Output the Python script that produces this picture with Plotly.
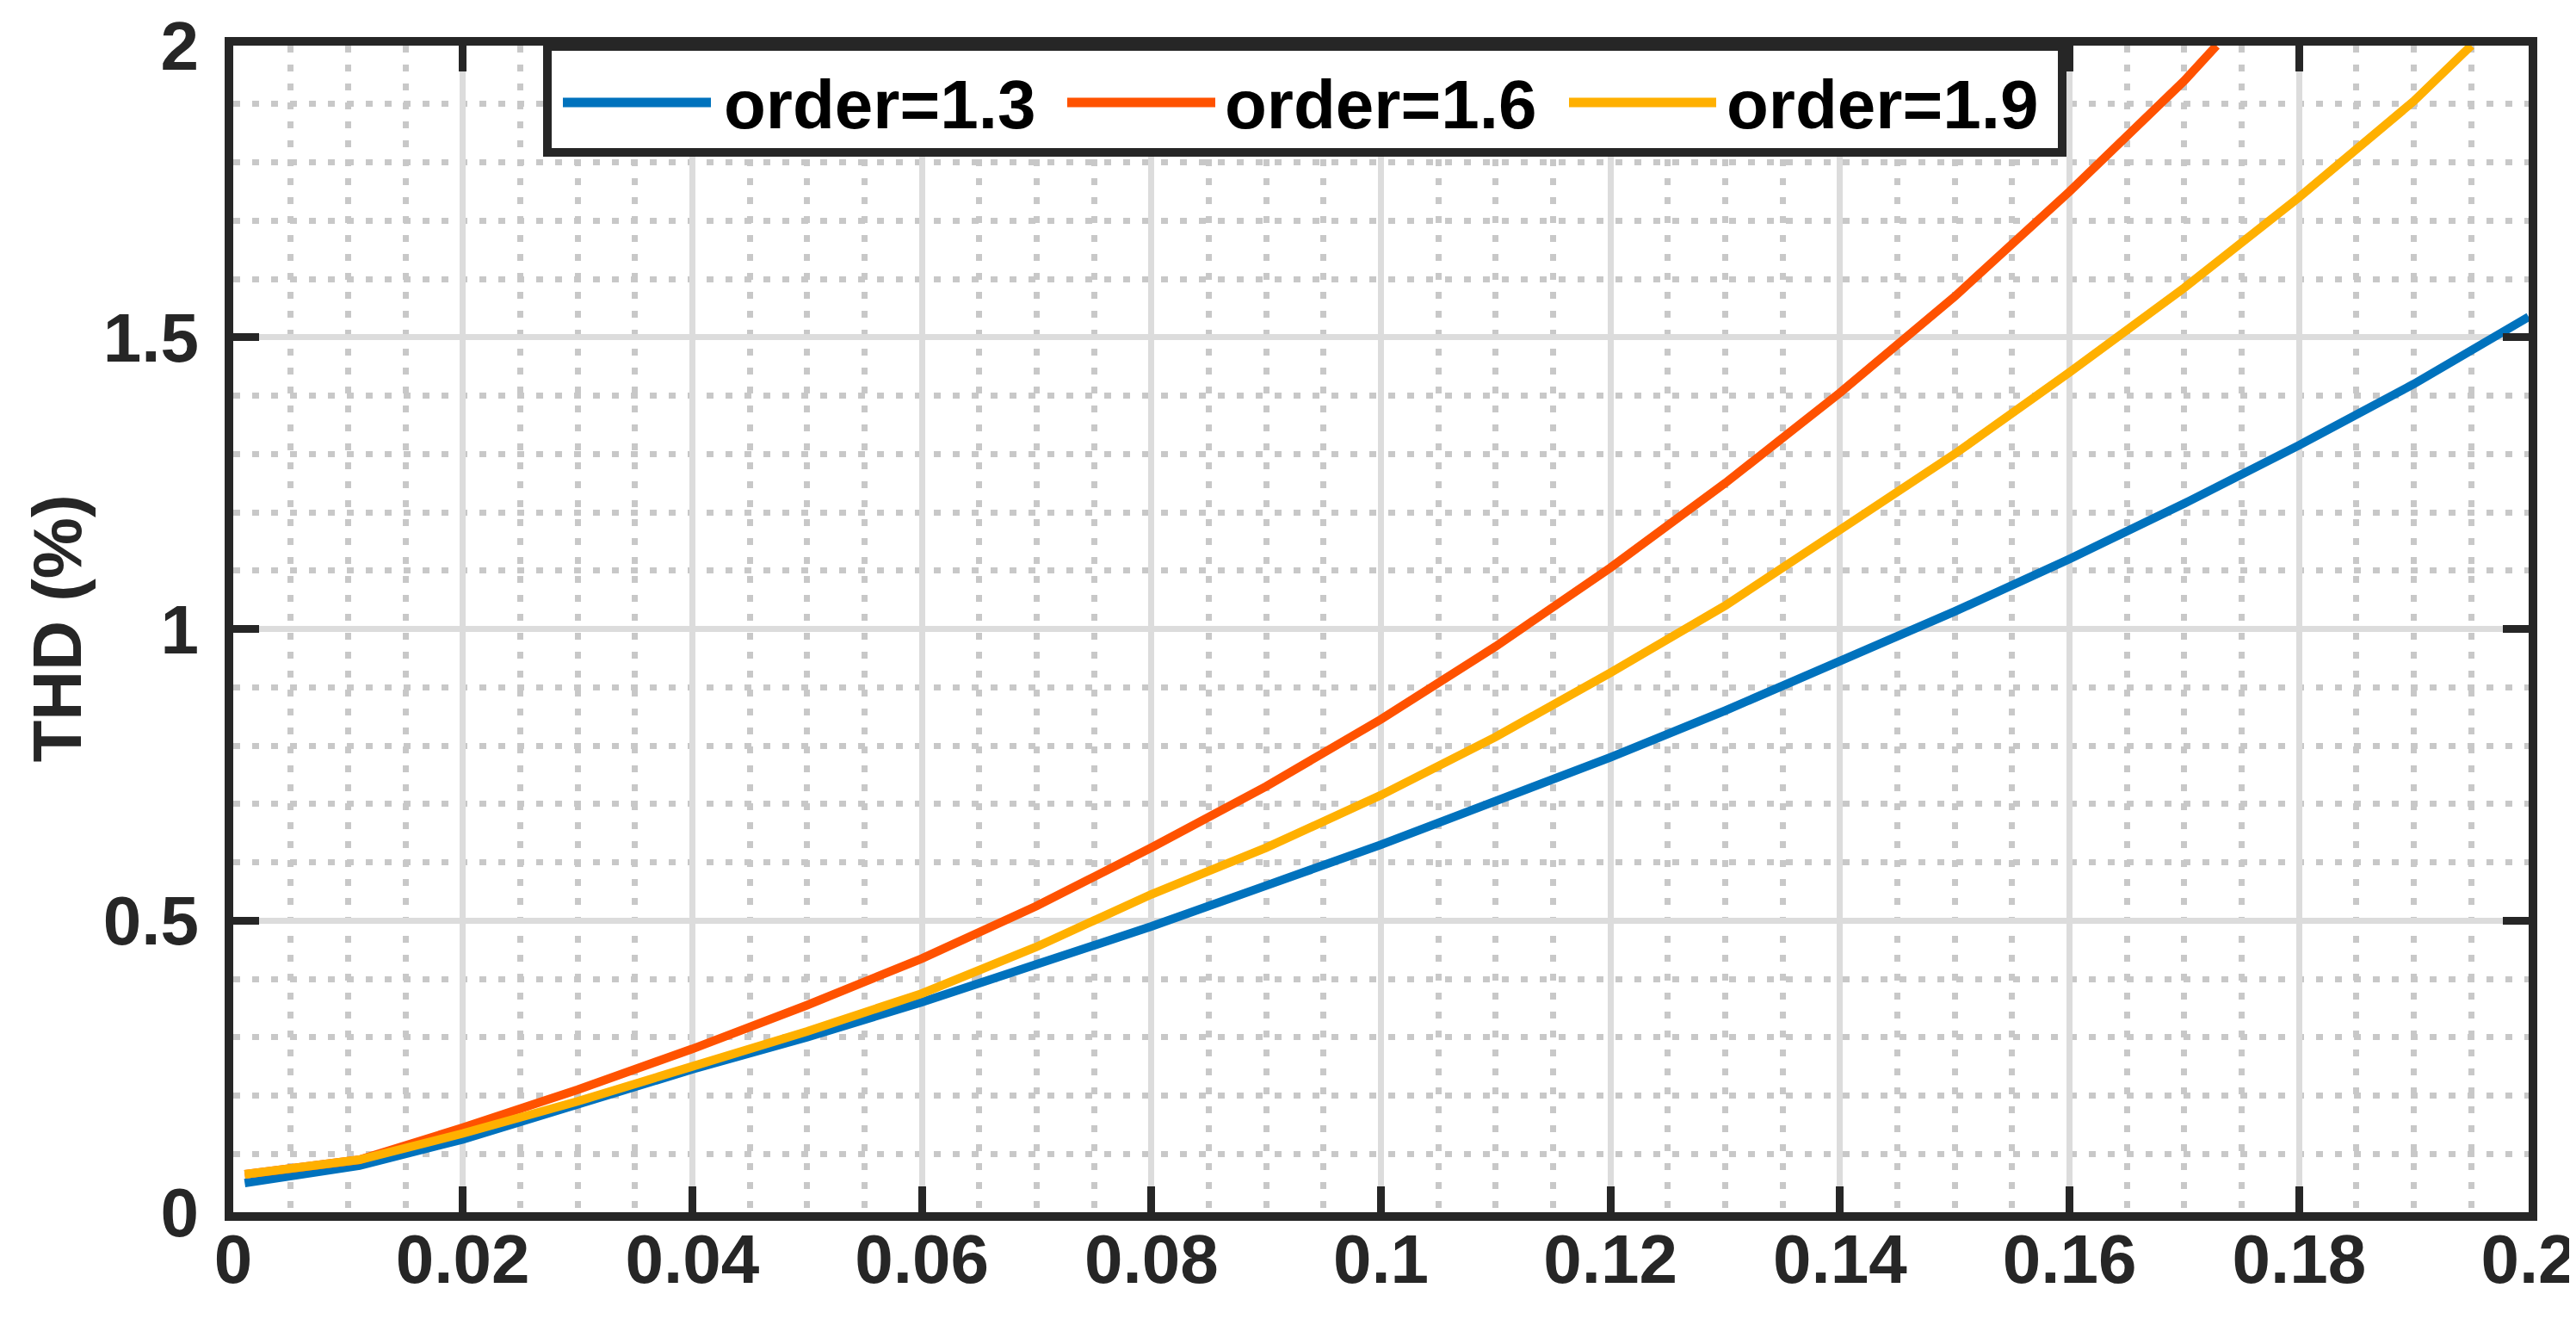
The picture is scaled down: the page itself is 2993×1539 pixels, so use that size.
import plotly.graph_objects as go

# ---------------- data ----------------
series_names = ["order=1.3", "order=1.6", "order=1.9"]

x_13 = [0.001, 0.011, 0.02, 0.03, 0.04, 0.05, 0.06, 0.07, 0.08, 0.09, 0.10,
        0.11, 0.12, 0.13, 0.14, 0.15, 0.16, 0.17, 0.18, 0.19, 0.20]
y_13 = [0.05, 0.08, 0.125, 0.185, 0.245, 0.30, 0.36, 0.425, 0.49, 0.56, 0.63,
        0.705, 0.78, 0.86, 0.945, 1.03, 1.12, 1.215, 1.315, 1.42, 1.535]

x_16 = [0.001, 0.011, 0.02, 0.03, 0.04, 0.05, 0.06, 0.07, 0.08, 0.09, 0.10,
        0.11, 0.12, 0.13, 0.14, 0.15, 0.16, 0.17, 0.1728]
y_16 = [0.065, 0.09, 0.145, 0.21, 0.28, 0.355, 0.435, 0.525, 0.625, 0.73, 0.845,
        0.97, 1.105, 1.25, 1.405, 1.57, 1.75, 1.94, 2.0]

x_19 = [0.001, 0.011, 0.02, 0.03, 0.04, 0.05, 0.06, 0.07, 0.08, 0.09, 0.10,
        0.11, 0.12, 0.13, 0.14, 0.15, 0.16, 0.17, 0.18, 0.19, 0.195]
y_19 = [0.065, 0.09, 0.135, 0.19, 0.25, 0.31, 0.375, 0.455, 0.545, 0.625, 0.715,
        0.815, 0.925, 1.04, 1.17, 1.30, 1.44, 1.585, 1.74, 1.905, 2.0]

x_tick_vals = [0, 0.02, 0.04, 0.06, 0.08, 0.1, 0.12, 0.14, 0.16, 0.18, 0.2]
x_tick_text = ["0", "0.02", "0.04", "0.06", "0.08", "0.1", "0.12", "0.14", "0.16", "0.18", "0.2"]
y_tick_vals = [0, 0.5, 1, 1.5, 2]
y_tick_text = ["0", "0.5", "1", "1.5", "2"]
y_title = "THD (%)"

# ---------------- style ----------------
W, H = 2993, 1539
L, R, T, B = 263, 2930, 45, 1400  # plot area in px
colors = ["#0072BD", "#FF5200", "#FFB000"]
FONT = "Arial, Liberation Sans, sans-serif"
AX = "#262626"
FS = 80

def px_x(p):
    return (p - L) / (R - L)

def px_y(p):
    return (B - p) / (B - T)

fig = go.Figure()
for xs, ys, c, n in zip([x_13, x_16, x_19], [y_13, y_16, y_19], colors, series_names):
    fig.add_trace(go.Scatter(x=xs, y=ys, mode="lines", name=n,
                             line=dict(color=c, width=10), showlegend=False))

axis_common = dict(
    showline=True, linewidth=10, linecolor=AX, mirror="ticks",
    ticks="inside", ticklen=30, tickwidth=9, tickcolor=AX,
    showgrid=True, gridcolor="#dcdcdc", gridwidth=7,
    zeroline=False,
    tickfont=dict(family=FONT, size=FS, color=AX, weight="bold"),
)

fig.update_xaxes(range=[0, 0.2], tickmode="array", tickvals=x_tick_vals, ticktext=x_tick_text,
                 minor=dict(dtick=0.005, showgrid=True, gridcolor="#c8c8c8", gridwidth=7,
                            griddash="8px,14px", ticks=""),
                 ticklabelstandoff=-24, **axis_common)
fig.update_yaxes(range=[0, 2], tickmode="array", tickvals=y_tick_vals, ticktext=y_tick_text,
                 minor=dict(dtick=0.1, showgrid=True, gridcolor="#c8c8c8", gridwidth=7,
                            griddash="8px,14px", ticks=""),
                 ticklabelstandoff=14, **axis_common)

# manual legend
shapes = [dict(type="rect", xref="paper", yref="paper",
               x0=px_x(628), x1=px_x(2388), y0=px_y(169), y1=px_y(46),
               line=dict(color=AX, width=10), fillcolor="white", layer="above")]
annotations = []
line_x = [(646, 818), (1232, 1404), (1815, 1986)]
text_x = [831, 1413, 1996]
for (a, b), tx, c, n in zip(line_x, text_x, colors, series_names):
    shapes.append(dict(type="line", xref="paper", yref="paper",
                       x0=px_x(a), x1=px_x(b), y0=px_y(111), y1=px_y(111),
                       line=dict(color=c, width=11), layer="above"))
    annotations.append(dict(xref="paper", yref="paper", x=px_x(tx), y=px_y(114),
                            xanchor="left", yanchor="middle", showarrow=False, text=n,
                            font=dict(family=FONT, size=FS, color="black", weight="bold")))

annotations.append(dict(xref="paper", yref="paper", x=px_x(58), y=0.5,
                        xanchor="center", yanchor="middle", showarrow=False, text=y_title,
                        textangle=-90,
                        font=dict(family=FONT, size=FS, color=AX, weight="bold")))

fig.update_layout(
    width=W, height=H,
    margin=dict(l=L, r=W - R, t=T, b=H - B, autoexpand=False),
    paper_bgcolor="white", plot_bgcolor="white",
    shapes=shapes, annotations=annotations,
)

fig.write_html("out.html")
